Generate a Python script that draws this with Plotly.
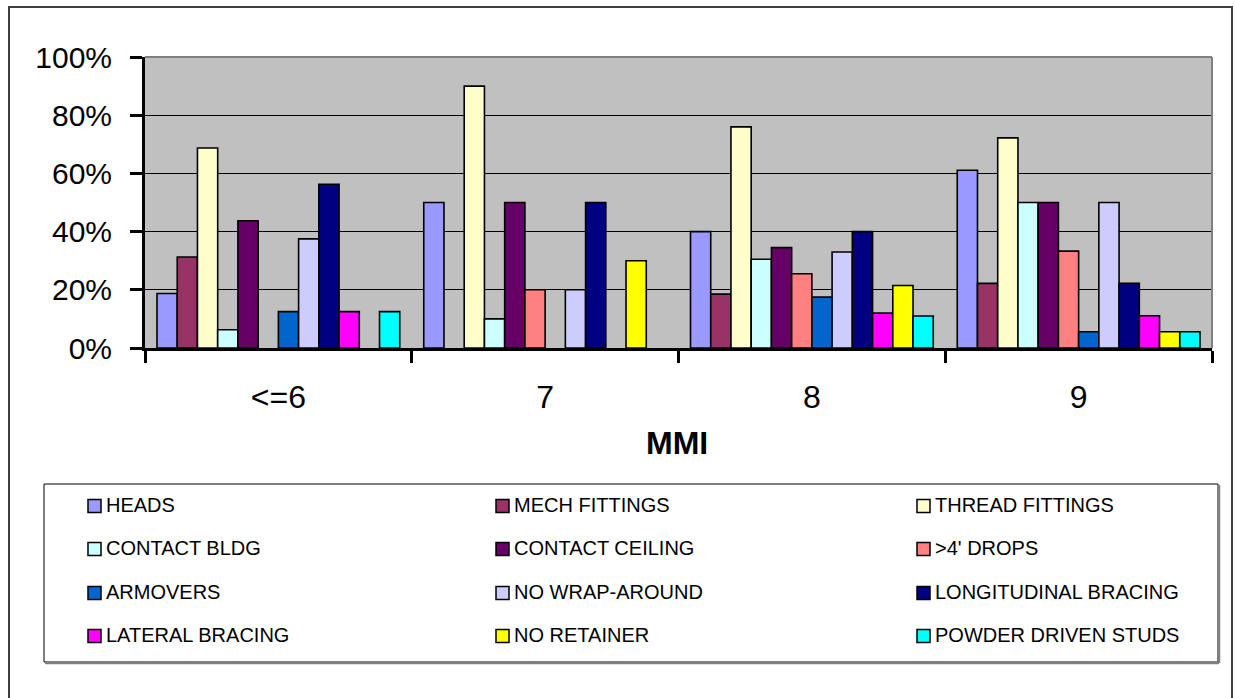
import plotly.graph_objects as go

# MMI intensity bins
categories = ["<=6", "7", "8", "9"]

# Share of sites showing each deficiency (percent) per MMI bin; None = not observed
series_names = [
    "HEADS", "MECH FITTINGS", "THREAD FITTINGS",
    "CONTACT BLDG", "CONTACT CEILING", ">4' DROPS",
    "ARMOVERS", "NO WRAP-AROUND", "LONGITUDINAL BRACING",
    "LATERAL BRACING", "NO RETAINER", "POWDER DRIVEN STUDS",
]
heads = [18.75, 50, 40, 61.1]
mech_fittings = [31.25, None, 18.5, 22.2]
thread_fittings = [68.75, 90, 76, 72.2]
contact_bldg = [6.25, 10, 30.5, 50]
contact_ceiling = [43.75, 50, 34.5, 50]
drops_4ft = [None, 20, 25.5, 33.3]
armovers = [12.5, None, 17.5, 5.6]
no_wrap_around = [37.5, 20, 33, 50]
longitudinal_bracing = [56.25, 50, 40, 22.2]
lateral_bracing = [12.5, None, 12, 11.1]
no_retainer = [None, 30, 21.5, 5.6]
powder_driven_studs = [12.5, None, 11, 5.6]

series_values = [
    heads, mech_fittings, thread_fittings,
    contact_bldg, contact_ceiling, drops_4ft,
    armovers, no_wrap_around, longitudinal_bracing,
    lateral_bracing, no_retainer, powder_driven_studs,
]
series_colors = [
    "#9999FF", "#993366", "#FFFFCC",
    "#CCFFFF", "#660066", "#FF8080",
    "#0066CC", "#CCCCFF", "#000080",
    "#FF00FF", "#FFFF00", "#00FFFF",
]
y_ticks = [0, 20, 40, 60, 80, 100]
y_tick_labels = ["0%", "20%", "40%", "60%", "80%", "100%"]

FONT = "Liberation Sans, Arial, sans-serif"
W, H = 1235, 698
PL, PR, PT, PB = 145, 1212, 57, 348  # plot area in pixels


def px(x):
    return (x - PL) / (PR - PL)


def py(y):
    return (PB - y) / (PB - PT)


fig = go.Figure()
for name, vals, col in zip(series_names, series_values, series_colors):
    fig.add_trace(go.Bar(
        x=categories, y=vals, name=name,
        marker=dict(color=col, line=dict(color="black", width=1.6)),
        showlegend=False,
    ))

shapes = []
annotations = []

# outer frame of the whole chart
shapes.append(dict(type="rect", xref="paper", yref="paper",
                   x0=px(9), x1=px(1232), y0=py(730), y1=py(7),
                   line=dict(color="#404040", width=2), layer="below"))
# plot-area top and right edges
shapes.append(dict(type="line", xref="paper", yref="paper",
                   x0=0, x1=1, y0=1, y1=1, line=dict(color="#808080", width=2)))
shapes.append(dict(type="line", xref="paper", yref="paper",
                   x0=1, x1=1, y0=0, y1=1, line=dict(color="#808080", width=2)))

# legend box
LX0, LX1, LY0, LY1 = 44, 1218, 484, 662
shapes.append(dict(type="rect", xref="paper", yref="paper",
                   x0=px(LX0), x1=px(LX1), y0=py(LY1), y1=py(LY0),
                   line=dict(color="black", width=1), fillcolor="white"))
shapes.append(dict(type="line", xref="paper", yref="paper",
                   x0=px(LX0 + 1), x1=px(LX1 + 1), y0=py(LY1 + 1), y1=py(LY1 + 1),
                   line=dict(color="#808080", width=2.5)))
shapes.append(dict(type="line", xref="paper", yref="paper",
                   x0=px(LX1 + 1), x1=px(LX1 + 1), y0=py(LY0 + 1), y1=py(LY1 + 1),
                   line=dict(color="#808080", width=2.5)))

col_swatch_x = [88, 496, 917]
row_y = [505, 548, 592, 635]
SW = 13
for i, (name, col) in enumerate(zip(series_names, series_colors)):
    r, c = divmod(i, 3)
    sx = col_swatch_x[c]
    cy = row_y[r]
    shapes.append(dict(type="rect", xref="paper", yref="paper",
                       x0=px(sx), x1=px(sx + SW), y0=py(cy + SW / 2 + 1), y1=py(cy - SW / 2 + 1),
                       fillcolor=col, line=dict(color="black", width=1.5)))
    annotations.append(dict(xref="paper", yref="paper", x=px(sx + SW + 3), y=py(cy),
                            text=name, showarrow=False, xanchor="left", yanchor="middle",
                            font=dict(family=FONT, size=20, color="black")))

# axis title
annotations.append(dict(xref="paper", yref="paper", x=px(677), y=py(443),
                        text="<b>MMI</b>", showarrow=False, xanchor="center", yanchor="middle",
                        font=dict(family=FONT, size=32, color="black")))

fig.update_layout(
    width=W, height=H,
    margin=dict(l=PL, r=W - PR, t=PT, b=H - PB, pad=0),
    paper_bgcolor="white",
    plot_bgcolor="#C0C0C0",
    barmode="group",
    bargap=0.09,
    bargroupgap=0,
    showlegend=False,
    font=dict(family=FONT, color="black"),
    shapes=shapes,
    annotations=annotations,
)
fig.update_xaxes(
    type="category",
    showline=True, linecolor="black", linewidth=3,
    ticks="outside", tickson="boundaries", ticklen=12, tickwidth=3, tickcolor="black",
    tickfont=dict(family=FONT, size=32, color="black"),
    ticklabelstandoff=19,
    showgrid=False,
)
fig.update_yaxes(
    range=[0, 100],
    tickmode="array", tickvals=y_ticks, ticktext=y_tick_labels,
    showline=True, linecolor="black", linewidth=3,
    ticks="outside", ticklen=12, tickwidth=3, tickcolor="black",
    tickfont=dict(family=FONT, size=30, color="black"),
    ticklabelstandoff=12,
    showgrid=True, gridcolor="black", gridwidth=1,
    zeroline=False,
)

fig.write_html("out.html")
